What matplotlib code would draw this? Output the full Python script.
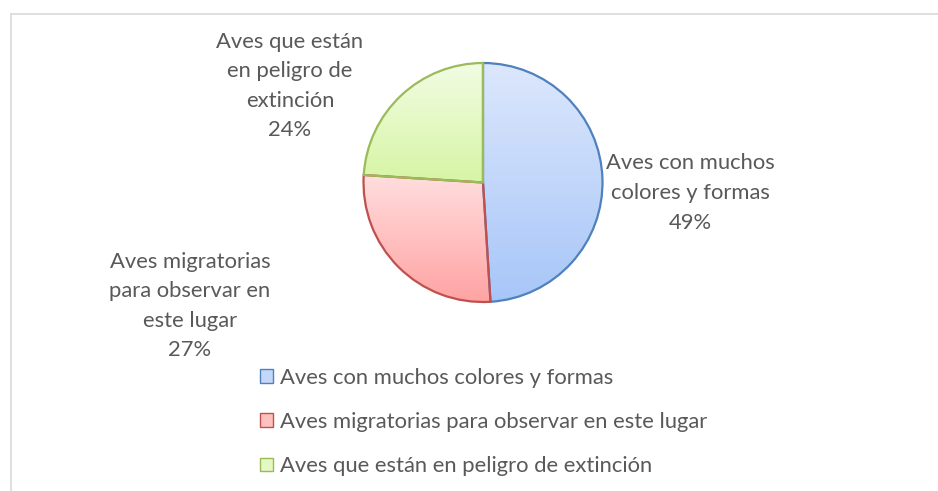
import matplotlib.pyplot as plt
import numpy as np
from matplotlib.colors import LinearSegmentedColormap
from matplotlib.patches import Patch

plt.rcParams['font.family'] = ['Lato', 'DejaVu Sans']

labels = ["Aves con muchos colores y formas",
          "Aves migratorias para observar en este lugar",
          "Aves que están en peligro de extinción"]
values = [49, 27, 24]
slice_text = ["Aves con muchos\ncolores y formas\n49%",
              "Aves migratorias\npara observar en\neste lugar\n27%",
              "Aves que están\nen peligro de\nextinción\n24%"]

edges = ["#4F81BD", "#C0504D", "#9BBB59"]
tops = ["#DCE7FC", "#FFDEDE", "#F2FCE3"]
bottoms = ["#A7C6F8", "#FFA3A3", "#D6F5A4"]
text_col = "#595959"

W, H = 938, 491
fig = plt.figure(figsize=(W / 100, H / 100), dpi=100)
ax = fig.add_axes([0, 0, 1, 1])

# chart frame (only top and left visible in the crop)
ax.plot([10.5, W + 5], [H - 13.5, H - 13.5], color="#D9D9D9", lw=1.2)
ax.plot([10.5, 10.5], [-5, H - 13.5], color="#D9D9D9", lw=1.2)

cx, cy, r = 483, H - 182.5, 119.5
wedges, _ = ax.pie(values, center=(cx, cy), radius=r, startangle=90,
                   counterclock=False, frame=True,
                   wedgeprops=dict(linewidth=1.6, facecolor="none"))

grad = np.linspace(0, 1, 256).reshape(-1, 1)
for w, e, t, b in zip(wedges, edges, tops, bottoms):
    w.set_edgecolor(e)
    w.set_zorder(3)
    bb = w.get_path().get_extents(w.get_patch_transform())
    cmap = LinearSegmentedColormap.from_list("g", [b, t])
    im = ax.imshow(grad, cmap=cmap, extent=[bb.x0, bb.x1, bb.y0, bb.y1],
                   origin="lower", aspect="auto", zorder=2)
    im.set_clip_path(w)

ax.set_xlim(0, W)
ax.set_ylim(0, H)
ax.axis("off")

label_pos = [(690, H - 193), (190, H - 306), (290, H - 86)]
for txt, (x, y) in zip(slice_text, label_pos):
    ax.text(x, y, txt, ha="center", va="center", fontsize=15.8,
            color=text_col, linespacing=1.6)

handles = [Patch(facecolor=m, edgecolor=e, linewidth=1.0)
           for m, e in zip(["#C4D7FA", "#FFC0C0", "#E4F8C3"], edges)]
leg = ax.legend(handles, labels, loc="upper left",
                bbox_to_anchor=(249 / W, 1 - 357 / H),
                frameon=False, fontsize=15.8, labelcolor=text_col,
                handlelength=0.6, handleheight=0.6, handletextpad=0.3,
                labelspacing=1.1, borderpad=0)

fig.savefig("out.png", dpi=100)
